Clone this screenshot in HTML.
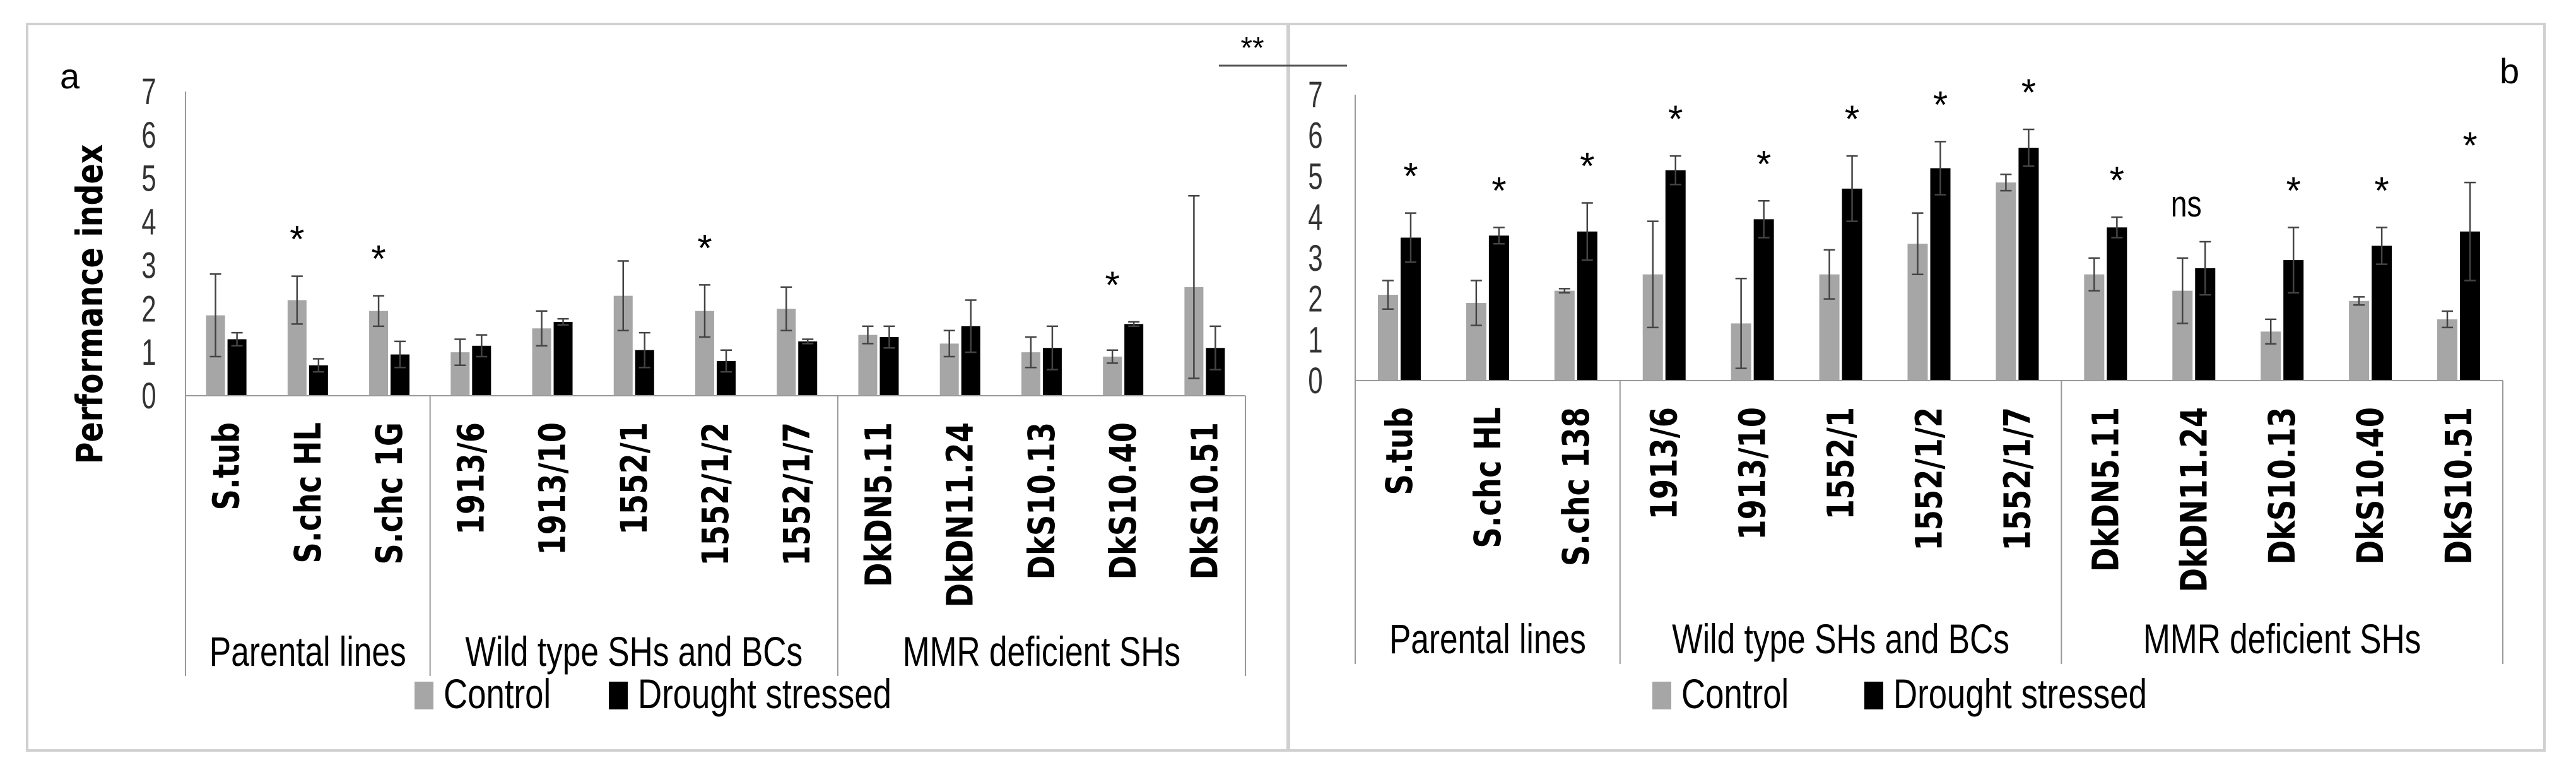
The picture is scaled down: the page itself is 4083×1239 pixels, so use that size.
<!DOCTYPE html>
<html><head><meta charset="utf-8"><style>
html,body{margin:0;padding:0;background:#fff}
svg{display:block}
text{font-family:"Liberation Sans","DejaVu Sans",sans-serif}
text.dv{font-family:"DejaVu Sans",sans-serif;font-weight:bold}
</style></head><body>
<svg id="fig" width="4083" height="1239" viewBox="0 0 4083 1239" xmlns="http://www.w3.org/2000/svg">
<rect x="0" y="0" width="4083" height="1239" fill="#fff"/>
<rect x="43" y="38" width="2000" height="1151" fill="none" stroke="#d0d0d0" stroke-width="4"/>
<rect x="2041" y="38" width="1992" height="1151" fill="none" stroke="#d0d0d0" stroke-width="4"/>
<text x="1985" y="92" font-size="48" fill="#000" text-anchor="middle">**</text>
<line x1="1932" y1="104" x2="2135" y2="104" stroke="#555" stroke-width="3"/>
<text x="95" y="140" font-size="56">a</text>
<text x="3962" y="132" font-size="56">b</text>
<text class="dv" transform="translate(162,482) rotate(-90) scale(0.82,1)" font-size="58" text-anchor="middle">Performance index</text>
</svg>
<script>
const catsA = ["S.tub","S.chc HL","S.chc 1G","1913/6","1913/10","1552/1","1552/1/2","1552/1/7","DkDN5.11","DkDN11.24","DkS10.13","DkS10.40","DkS10.51"];
const ctrlA = [1.85,2.2,1.95,1.0,1.55,2.3,1.95,2.0,1.4,1.2,1.0,0.9,2.5];
const ctrlErrA = [0.95,0.55,0.35,0.3,0.4,0.8,0.6,0.5,0.2,0.3,0.35,0.15,2.1];
const drA = [1.3,0.7,0.95,1.15,1.7,1.05,0.8,1.25,1.35,1.6,1.1,1.65,1.1];
const drErrA = [0.15,0.15,0.3,0.25,0.07,0.4,0.25,0.05,0.25,0.6,0.5,0.05,0.5];
const sigA = ["","*","*","","","","*","","","","","*",""];
const catsB = ["S.tub","S.chc HL","S.chc 138","1913/6","1913/10","1552/1","1552/1/2","1552/1/7","DkDN5.11","DkDN11.24","DkS10.13","DkS10.40","DkS10.51"];
const ctrlB = [2.1,1.9,2.2,2.6,1.4,2.6,3.35,4.85,2.6,2.2,1.2,1.95,1.5];
const ctrlErrB = [0.35,0.55,0.05,1.3,1.1,0.6,0.75,0.2,0.4,0.8,0.3,0.1,0.2];
const drB = [3.5,3.55,3.65,5.15,3.95,4.7,5.2,5.7,3.75,2.75,2.95,3.3,3.65];
const drErrB = [0.6,0.2,0.7,0.35,0.45,0.8,0.65,0.45,0.25,0.65,0.8,0.45,1.2];
const sigB = ["*","*","*","*","*","*","*","*","*","ns","*","*","*"];
const groups = ["Parental lines","Wild type SHs and BCs","MMR deficient SHs"];
const groupSizes = [3,5,5];
const yTicks = [0,1,2,3,4,5,6,7];

const NS="http://www.w3.org/2000/svg";
const svg=document.getElementById('fig');
function mk(tag,attrs,parent){const e=document.createElementNS(NS,tag);for(const k in attrs)e.setAttribute(k,attrs[k]);(parent||svg).appendChild(e);return e;}
function sx(x,s){return `translate(${x},0) scale(${s},1) translate(${-x},0)`;}

function panel(p){
  const g=mk('g',{});
  
  
  const y=v=>p.y0-(v/7)*(p.y0-p.y7);
  const n=p.cats.length, cw=(p.x1-p.x0)/n;
  const cx=i=>p.x0+cw*(i+0.5);
  const ax=mk('line',{x1:p.x0,y1:y(7),x2:p.x0,y2:p.y0,stroke:'#999','stroke-width':2},g);
  
  
  yTicks.forEach(t=>{
    const tx=mk('text',{x:p.tickX,y:y(t)+20,'font-size':58,'text-anchor':'middle',fill:'#333',transform:sx(p.tickX,0.72)},g);
    tx.textContent=t;
    
    
  });
  for(let i=0;i<n;i++){
    const c=cx(i);
    const vals=[[p.ctrl[i],p.ctrlErr[i],'#a6a6a6',c-p.bw-2,'control'],[p.dr[i],p.drErr[i],'#000',c+2,'drought']];
    vals.forEach(([v,e,col,x,nm])=>{
      const r=mk('rect',{x:x,y:y(v),width:p.bw,height:p.y0-y(v),fill:col},g);
      
      
      const mx=x+p.bw/2;
      const eb=mk('path',{d:`M${mx},${y(v-e)}V${y(v+e)}M${mx-9},${y(v+e)}H${mx+9}M${mx-9},${y(v-e)}H${mx+9}`,stroke:'#444','stroke-width':2.5,fill:'none'},g);
      
      
    });
    if(p.sig[i]){
      const top=p.sigBase==='ctrl'?Math.max(p.ctrl[i]+p.ctrlErr[i],p.dr[i]+p.drErr[i]):p.dr[i]+p.drErr[i];
      const isNs=p.sig[i]==='ns';
      const xx=p.id==='panel-a'?c-p.bw/2-2:(isNs?c-12:c+p.bw/2+2);
      const st=mk('text',{x:xx,y:y(top)-(isNs?40:38),'font-size':isNs?58:60,'text-anchor':'middle',fill:'#000',transform:isNs?sx(xx,0.8):''},g);
      st.textContent=p.sig[i];
      
      
    }
    const lb=mk('text',{class:'dv',transform:`translate(${c+20},${p.y0+42}) rotate(-90) scale(0.8,1)`,'font-size':58,'text-anchor':'end'},g);
    lb.textContent=p.cats[i];
    
    
  }
  const xa=mk('line',{x1:p.x0,y1:p.y0,x2:p.x1,y2:p.y0,stroke:'#999','stroke-width':2},g);
  
  
  let k=0;
  const seps=[0];
  groupSizes.forEach(s=>{k+=s;seps.push(k);});
  seps.forEach(s=>{
    const ln=mk('line',{x1:p.x0+cw*s,y1:p.y0,x2:p.x0+cw*s,y2:p.sepB,stroke:'#999','stroke-width':2},g);
    
    
  });
  groups.forEach((gn,j)=>{
    const gx=p.x0+cw*(seps[j]+seps[j+1])/2;
    const t=mk('text',{x:gx,y:p.gY,'font-size':66,'text-anchor':'middle',transform:sx(gx,0.78)},g);
    t.textContent=gn;
    
    
  });
  const l1=mk('rect',{x:p.lx1,y:1080,width:30,height:44,fill:'#a6a6a6'},g);
  
  
  const t1=mk('text',{x:p.lx1+46,y:1122,'font-size':66,transform:sx(p.lx1+46,0.8)},g);
  t1.textContent='Control';
  
  
  const l2=mk('rect',{x:p.lx2,y:1080,width:30,height:44,fill:'#000'},g);
  
  
  const t2=mk('text',{x:p.lx2+46,y:1122,'font-size':66,transform:sx(p.lx2+46,0.8)},g);
  t2.textContent='Drought stressed';
  
  
}
panel({id:'panel-a',cats:catsA,ctrl:ctrlA,ctrlErr:ctrlErrA,dr:drA,drErr:drErrA,sig:sigA,sigBase:'ctrl',
  x0:294,x1:1974,y0:627,y7:145,bw:30,tickX:236,sepB:1071,gY:1055,lx1:657,lx2:965});
panel({id:'panel-b',cats:catsB,ctrl:ctrlB,ctrlErr:ctrlErrB,dr:drB,drErr:drErrB,sig:sigB,sigBase:'dr',
  x0:2148,x1:3967,y0:603,y7:150,bw:32,tickX:2085,sepB:1052,gY:1035,lx1:2619,lx2:2955});
</script>
</body></html>
